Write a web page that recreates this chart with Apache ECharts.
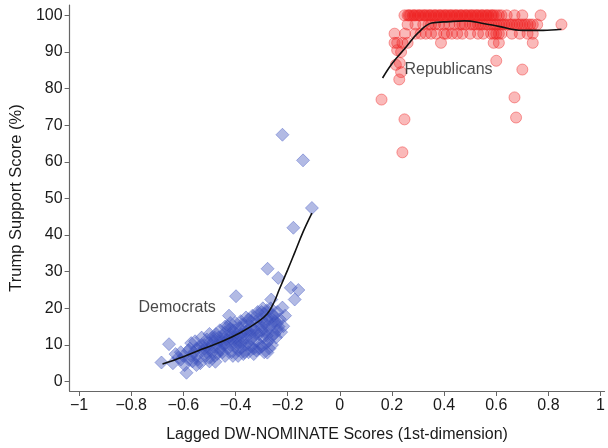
<!DOCTYPE html>
<html>
<head>
<meta charset="utf-8">
<script src="https://cdn.jsdelivr.net/npm/echarts@6/dist/echarts.min.js"></script>
<style>html,body{margin:0;padding:0;background:#fff}#c{width:608px;height:448px}</style>
</head>
<body>
<div id="c"></div>
<script>
var xTicks = [-1, -0.8, -0.6, -0.4, -0.2, 0, 0.2, 0.4, 0.6, 0.8, 1];
var yTicks = [0, 10, 20, 30, 40, 50, 60, 70, 80, 90, 100];

var democrats = [
[-0.684,5.2],[-0.655,10.2],[-0.64,5],[-0.63,7.5],[-0.62,6.5],[-0.61,8],[-0.61,6],[-0.60,7],[-0.595,4.5],[-0.588,2.4],
[-0.58,6],[-0.58,8.5],[-0.575,9],[-0.57,10.5],[-0.57,7],[-0.565,5.5],[-0.56,8],[-0.555,11],[-0.55,7],[-0.55,9],
[-0.55,4.5],[-0.545,6],[-0.54,9.5],[-0.535,5],[-0.53,12],[-0.53,10],[-0.525,8.5],[-0.52,10],[-0.52,9],[-0.515,7],
[-0.51,11.5],[-0.51,8],[-0.505,9],[-0.50,13],[-0.50,6.5],[-0.50,10.5],[-0.50,5.5],[-0.495,10],[-0.49,8],[-0.49,12],
[-0.485,11],[-0.48,9.5],[-0.48,12],[-0.48,7],[-0.477,5.4],[-0.475,13],[-0.47,10.5],[-0.47,7.5],[-0.465,12],[-0.46,9],
[-0.46,14],[-0.46,11],[-0.46,8.5],[-0.455,11],[-0.45,8],[-0.45,12.5],[-0.445,10],[-0.44,13.5],[-0.44,7],[-0.44,10],
[-0.44,12],[-0.44,15],[-0.435,11.5],[-0.43,9],[-0.43,15],[-0.425,12],[-0.425,18],[-0.42,10],[-0.42,13],[-0.42,11.5],
[-0.42,14.5],[-0.42,16],[-0.415,8],[-0.41,14],[-0.41,11],[-0.41,7],[-0.405,12.5],[-0.40,9.5],[-0.40,16],[-0.40,12],
[-0.40,11],[-0.40,14],[-0.398,23.3],[-0.395,13],[-0.39,10.5],[-0.39,7],[-0.39,8.5],[-0.385,14.5],[-0.38,12],[-0.38,9],
[-0.38,13],[-0.38,10.5],[-0.38,16.5],[-0.375,15.5],[-0.37,11],[-0.37,13.5],[-0.37,7.5],[-0.365,8],[-0.36,16],[-0.36,12],
[-0.36,13.5],[-0.36,10],[-0.36,17.5],[-0.355,14],[-0.35,10],[-0.35,17],[-0.35,8],[-0.345,13],[-0.34,11.5],[-0.34,15],
[-0.34,14],[-0.34,9.5],[-0.34,16.5],[-0.335,18],[-0.33,12.5],[-0.33,9],[-0.33,7.5],[-0.325,14],[-0.32,16.5],[-0.32,11],
[-0.32,13],[-0.32,8.5],[-0.32,18],[-0.315,19],[-0.31,13],[-0.31,15.5],[-0.31,9],[-0.305,10],[-0.30,17],[-0.30,14],
[-0.30,15],[-0.30,9.5],[-0.30,19],[-0.295,20],[-0.295,12],[-0.29,16],[-0.29,18.5],[-0.29,8],[-0.285,13.5],[-0.28,15],
[-0.28,19.5],[-0.28,17],[-0.28,10.5],[-0.28,12.5],[-0.278,7.9],[-0.277,30.8],[-0.275,11],[-0.27,17],[-0.27,14],[-0.27,9],
[-0.265,20],[-0.263,22.4],[-0.26,15.5],[-0.26,10],[-0.26,18.5],[-0.26,12.5],[-0.26,17],[-0.255,18],[-0.25,13],[-0.25,16.5],
[-0.245,12],[-0.24,19],[-0.24,14],[-0.24,16],[-0.236,28.3],[-0.235,15],[-0.23,17],[-0.225,13.5],[-0.22,20.2],[-0.22,67.4],
[-0.217,15.1],[-0.21,18],[-0.188,25.6],[-0.178,42],[-0.173,22.4],[-0.159,25],[-0.141,60.4],[-0.107,47.4]
];

var republicans = [
[0.248,100],[0.26,100],[0.27,100],[0.28,100],[0.29,100],[0.30,100],[0.31,100],[0.32,100],[0.33,100],[0.34,100],
[0.35,100],[0.36,100],[0.37,100],[0.38,100],[0.39,100],[0.40,100],[0.41,100],[0.42,100],[0.43,100],[0.44,100],
[0.45,100],[0.46,100],[0.47,100],[0.48,100],[0.49,100],[0.50,100],[0.51,100],[0.52,100],[0.53,100],[0.54,100],
[0.55,100],[0.56,100],[0.57,100],[0.58,100],[0.59,100],[0.60,100],[0.61,100],[0.62,100],[0.64,100],[0.67,100],
[0.70,100],[0.77,100],[0.265,100],[0.285,100],[0.305,100],[0.325,100],[0.345,100],[0.365,100],[0.385,100],[0.405,100],
[0.425,100],[0.445,100],[0.465,100],[0.485,100],[0.505,100],[0.525,100],[0.545,100],[0.565,100],[0.585,100],
[0.26,97.5],[0.29,97.5],[0.32,97.5],[0.35,97.5],[0.38,97.5],[0.40,97.5],[0.42,97.5],[0.44,97.5],[0.46,97.5],[0.47,97.5],
[0.48,97.5],[0.50,97.5],[0.51,97.5],[0.52,97.5],[0.53,97.5],[0.54,97.5],[0.55,97.5],[0.56,97.5],[0.57,97.5],[0.58,97.5],
[0.59,97.5],[0.60,97.5],[0.61,97.5],[0.62,97.5],[0.63,97.5],[0.64,97.5],[0.65,97.5],[0.66,97.5],[0.67,97.5],[0.68,97.5],
[0.69,97.5],[0.70,97.5],[0.71,97.5],[0.72,97.5],[0.73,97.5],[0.74,97.5],[0.757,97.5],[0.85,97.5],[0.34,97.5],[0.365,97.5],
[0.21,95],[0.25,95],[0.29,95],[0.31,95],[0.33,95],[0.37,95],[0.40,95],[0.43,95],[0.45,95],[0.47,95],
[0.50,95],[0.53,95],[0.55,95],[0.58,95],[0.60,95],[0.62,95],[0.66,95],[0.69,95],[0.72,95],[0.74,95],
[0.35,95],[0.41,95],[0.59,95],[0.61,95],
[0.21,92.5],[0.22,92.5],[0.24,92.5],[0.26,92.5],[0.388,92.5],[0.59,92.5],[0.61,92.5],[0.74,92.5],
[0.22,90.5],[0.235,90],[0.23,87],[0.215,86.5],[0.235,84.5],[0.228,82.5],[0.60,87.6],[0.70,85.2],
[0.16,77],[0.248,71.6],[0.24,62.6],[0.67,77.6],[0.676,72.1]
];

var demFit = [[-0.68,4.8],[-0.6,6.8],[-0.53,8.8],[-0.45,11],[-0.38,13.4],[-0.32,16],[-0.278,18.5],[-0.25,22],[-0.233,25],[-0.2,30.5],[-0.173,35.2],[-0.14,41],[-0.107,46]];
var repFit = [[0.164,82.9],[0.2,86.8],[0.256,91.5],[0.3,95.2],[0.352,97.9],[0.42,98.3],[0.478,98.5],[0.55,97.8],[0.61,97],[0.7,95.9],[0.78,95.9],[0.85,96.2]];

var annotations = [
  {name: 'Republicans', value: [0.248, 85.2]},
  {name: 'Democrats', value: [-0.772, 20.1]}
];

var fmt = function (v) { return String(Math.round(v * 10) / 10).replace('-', '\u2212'); };
var axisCol = '#666';
var txt = '#1a1a1a';
var ff = 'Liberation Sans, Arial, Helvetica, sans-serif';
var chart = echarts.init(document.getElementById('c'), null, {renderer: 'canvas'});
chart.setOption({
  animation: false,
  backgroundColor: '#fff',
  grid: {left: 69, right: 2, top: 5, bottom: 55},
  xAxis: {
    type: 'value', min: -1.0363, max: 1.0153,
    name: 'Lagged DW-NOMINATE Scores (1st-dimension)',
    nameLocation: 'middle', nameGap: 36,
    nameTextStyle: {fontFamily: ff, fontSize: 16, color: txt},
    axisLine: {onZero: false, lineStyle: {color: axisCol, width: 1.2}},
    axisTick: {show: true, length: 5, customValues: xTicks, lineStyle: {color: axisCol}},
    axisLabel: {customValues: xTicks, formatter: fmt, fontFamily: ff, fontSize: 16, color: txt, margin: 7},
    splitLine: {show: false}
  },
  yAxis: {
    type: 'value', min: -2.58, max: 102.83,
    name: 'Trump Support Score (%)',
    nameLocation: 'middle', nameGap: 44, nameRotate: 90,
    nameTextStyle: {fontFamily: ff, fontSize: 16.5, color: txt},
    axisLine: {show: true, onZero: false, lineStyle: {color: axisCol, width: 1.2}},
    axisTick: {show: true, length: 5, customValues: yTicks, lineStyle: {color: axisCol}},
    axisLabel: {customValues: yTicks, formatter: fmt, fontFamily: ff, fontSize: 16, color: txt, margin: 7},
    splitLine: {show: false}
  },
  series: [
    {
      type: 'scatter', name: 'Democrats', data: democrats,
      symbol: 'diamond', symbolSize: 13,
      itemStyle: {color: 'rgba(55,75,185,0.48)', borderColor: 'rgba(80,100,200,0.6)', borderWidth: 1}
    },
    {
      type: 'scatter', name: 'Republicans', data: republicans,
      symbol: 'circle', symbolSize: 11,
      itemStyle: {color: 'rgba(240,25,25,0.38)', borderColor: 'rgba(240,40,40,0.55)', borderWidth: 1}
    },
    {
      type: 'line', data: demFit, smooth: 0.4, symbol: 'none',
      lineStyle: {color: '#111', width: 1.6}, z: 5
    },
    {
      type: 'line', data: repFit, smooth: 0.4, symbol: 'none',
      lineStyle: {color: '#111', width: 1.6}, z: 5
    },
    {
      type: 'scatter', data: annotations, symbolSize: 0, silent: true, z: 6,
      label: {show: true, position: 'right', distance: 0, formatter: '{b}',
        fontFamily: ff, fontSize: 16, color: txt}
    }
  ]
});
</script>
</body>
</html>
